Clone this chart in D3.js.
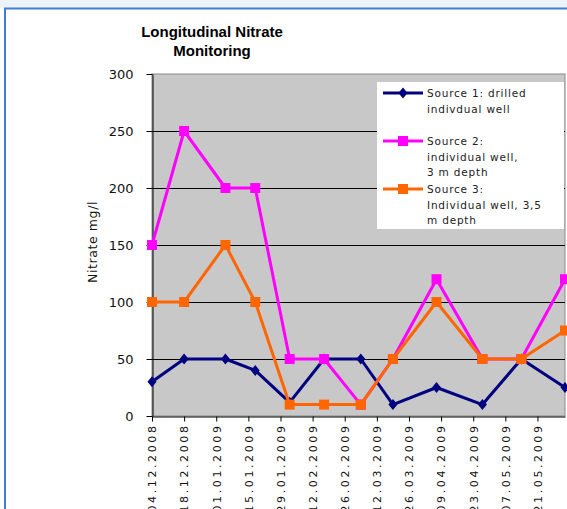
<!DOCTYPE html>
<html>
<head>
<meta charset="utf-8">
<script src="https://cdn.jsdelivr.net/npm/d3@7"></script>
<style>
  html, body { margin: 0; padding: 0; background: #fff; }
  svg { display: block; }
</style>
</head>
<body>
<div id="chart"></div>
<script>
// sample dates (date axis, Excel style)
const sampleDates = ["04.12.2008", "18.12.2008", "05.01.2009", "18.01.2009", "02.02.2009", "17.02.2009",
    "05.03.2009", "19.03.2009", "07.04.2009", "27.04.2009", "14.05.2009", "02.06.2009"];
const source1 = [30, 50, 50, 40, 12, 50, 50, 10, 25, 10, 50, 25];
const source2 = [150, 250, 200, 200, 50, 50, 10, 50, 120, 50, 50, 120];
const source3 = [100, 100, 150, 100, 10, 10, 10, 50, 100, 50, 50, 75];
const tickLabels = ["04.12.2008", "18.12.2008", "01.01.2009", "15.01.2009", "29.01.2009", "12.02.2009",
    "26.02.2009", "12.03.2009", "26.03.2009", "09.04.2009", "23.04.2009", "07.05.2009", "21.05.2009"];
const yTicks = [0, 50, 100, 150, 200, 250, 300];

const width = 567, height = 509;
const parse = d3.utcParse("%d.%m.%Y");

const series = [
    { name: ["Source 1: drilled", "indivdual well"], values: source1, color: "#000080", marker: "diamond" },
    { name: ["Source 2:", "individual well,", "3 m depth"], values: source2, color: "#ff00ff", marker: "square" },
    { name: ["Source 3:", "Individual well, 3,5", "m depth"], values: source3, color: "#ff6600", marker: "square" }
];

const svg = d3.select("#chart").append("svg")
    .attr("width", width)
    .attr("height", height);

// page frame
svg.append("rect").attr("x", 0).attr("y", 0).attr("width", width).attr("height", 8).attr("fill", "#edf3fb");
svg.append("path").attr("d", "M5,509 L5,8.5 L567,8.5")
    .attr("fill", "none").attr("stroke", "#3d7fd6").attr("stroke-width", 2);

const x = d3.scaleUtc()
    .domain([parse(sampleDates[0]), parse(sampleDates[sampleDates.length - 1])])
    .range([152, 565]);
const y = d3.scaleLinear().domain([0, 300]).range([416, 74]);

// plot area
svg.append("rect")
    .attr("x", x.range()[0]).attr("y", y(300))
    .attr("width", x.range()[1] - x.range()[0]).attr("height", y(0) - y(300))
    .attr("fill", "#c8c8c8").attr("stroke", "#8a8a8a").attr("stroke-width", 1);

// gridlines
svg.append("g")
    .selectAll("line")
    .data(yTicks.filter(d => d > 0 && d < 300))
    .join("line")
    .attr("x1", x.range()[0]).attr("x2", x.range()[1])
    .attr("y1", d => Math.round(y(d)) + 0.5).attr("y2", d => Math.round(y(d)) + 0.5)
    .attr("stroke", "#000").attr("stroke-width", 1);

// y axis
const yAxis = svg.append("g")
    .attr("transform", "translate(152.5,0)")
    .call(d3.axisLeft(y).tickValues(yTicks).tickSize(6).tickPadding(13).tickSizeOuter(0));
yAxis.select(".domain").attr("stroke", "#000");
yAxis.selectAll(".tick line").attr("stroke", "#000");
yAxis.selectAll("text")
    .attr("font-family", "'DejaVu Sans', sans-serif")
    .attr("font-size", 13)
    .attr("fill", "#111");

// x axis
const xAxis = svg.append("g")
    .attr("transform", "translate(0,416.5)")
    .call(d3.axisBottom(x).tickValues(tickLabels.map(parse)).tickSize(5).tickSizeOuter(0)
        .tickFormat(d3.utcFormat("%d.%m.%Y")));
xAxis.select(".domain").attr("stroke", "#000");
xAxis.selectAll(".tick line").attr("stroke", "#000");
xAxis.selectAll("text")
    .attr("font-family", "'DejaVu Sans', sans-serif")
    .attr("font-size", 11)
    .attr("letter-spacing", 2.6)
    .attr("fill", "#111")
    .attr("text-anchor", "end")
    .attr("transform", "rotate(-90)")
    .attr("x", -7)
    .attr("y", 0)
    .attr("dy", "0.35em");

// title
svg.append("text")
    .attr("x", 212).attr("y", 37)
    .attr("text-anchor", "middle")
    .attr("font-family", "'Liberation Sans', Arial, sans-serif")
    .attr("font-weight", "bold")
    .attr("font-size", 15)
    .selectAll("tspan")
    .data(["Longitudinal Nitrate", "Monitoring"])
    .join("tspan")
    .attr("x", 212)
    .attr("dy", (d, i) => i ? 19 : 0)
    .text(d => d);

// y axis title
svg.append("text")
    .attr("transform", "translate(97,242) rotate(-90)")
    .attr("text-anchor", "middle")
    .attr("font-family", "'DejaVu Sans', sans-serif")
    .attr("font-size", 12.5)
    .attr("letter-spacing", 0.6)
    .attr("fill", "#111")
    .text("Nitrate mg/l");

const line = d3.line()
    .x((d, i) => x(parse(sampleDates[i])))
    .y(d => y(d));

const diamond = "M0,-5.5L4.5,0L0,5.5L-4.5,0Z";

function drawMarker(g, type, color) {
    if (type === "diamond") {
        g.append("path").attr("d", diamond).attr("fill", color);
    } else {
        g.append("rect").attr("x", -5).attr("y", -5).attr("width", 10).attr("height", 10).attr("fill", color);
    }
}

series.forEach(s => {
    const g = svg.append("g");
    g.append("path")
        .datum(s.values)
        .attr("d", line)
        .attr("fill", "none")
        .attr("stroke", s.color)
        .attr("stroke-width", 3)
        .attr("stroke-linejoin", "round");
    s.values.forEach((v, i) => {
        const m = g.append("g").attr("transform", `translate(${x(parse(sampleDates[i]))},${y(v)})`);
        drawMarker(m, s.marker, s.color);
    });
});

// legend
const legend = svg.append("g");
legend.append("rect")
    .attr("x", 377).attr("y", 82).attr("width", 187).attr("height", 147)
    .attr("fill", "#fff");

const legendY = [93, 141, 189];
series.forEach((s, i) => {
    const ly = legendY[i];
    legend.append("line")
        .attr("x1", 383).attr("x2", 423)
        .attr("y1", ly).attr("y2", ly)
        .attr("stroke", s.color).attr("stroke-width", 3);
    const m = legend.append("g").attr("transform", `translate(403,${ly})`);
    drawMarker(m, s.marker, s.color);
    legend.append("text")
        .attr("font-family", "'DejaVu Sans', sans-serif")
        .attr("font-size", 10.5)
        .attr("letter-spacing", 0.8)
        .attr("fill", "#222")
        .selectAll("tspan")
        .data(s.name)
        .join("tspan")
        .attr("x", 427)
        .attr("y", (d, j) => ly + 4 + j * 15.7)
        .text(d => d);
});
</script>
</body>
</html>
